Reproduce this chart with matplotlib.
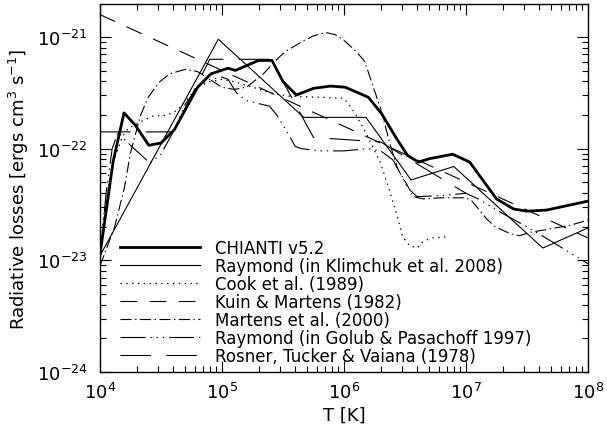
import numpy as np
import matplotlib
matplotlib.use("Agg")
import matplotlib.pyplot as plt

plt.rcParams['lines.scale_dashes'] = False
plt.rcParams['font.family'] = ['DejaVu Sans']

# values, as log10(T) and log10(Lambda)
chianti_logT = [4.0, 4.107, 4.197, 4.29, 4.40, 4.50, 4.61, 4.80, 4.91, 5.05, 5.11, 5.30, 5.41,
                5.50, 5.61, 5.75, 5.89, 6.01, 6.20, 6.31, 6.42, 6.52, 6.61, 6.70, 6.89, 7.03,
                7.25, 7.39, 7.50, 7.66, 8.0]
chianti_logL = [-22.95, -22.12, -21.68, -21.79, -21.97, -21.95, -21.83, -21.45, -21.33, -21.28,
                -21.30, -21.21, -21.21, -21.40, -21.52, -21.46, -21.44, -21.45, -21.54, -21.69,
                -21.89, -22.06, -22.12, -22.09, -22.05, -22.12, -22.45, -22.54, -22.56, -22.55,
                -22.47]

klim_logT = [4.0, 4.97, 5.67, 6.18, 6.55, 6.90, 7.63, 8.0]
klim_logL = [-22.96, -21.02, -21.72, -21.72, -22.28, -22.16, -22.89, -22.71]

cook_logT = [4.0, 4.03, 4.06, 4.11, 4.18, 4.23, 4.35, 4.43, 4.55, 4.63, 4.72, 4.80, 4.90, 5.0,
             5.1, 5.25, 5.4, 5.55, 5.8, 6.0, 6.05, 6.1, 6.19, 6.3, 6.38, 6.44, 6.48, 6.54,
             6.6, 6.65, 6.72, 6.84]
cook_logL = [-22.95, -22.6, -22.4, -22.12, -21.9, -21.82, -21.75, -21.71, -21.70, -21.66,
             -21.55, -21.45, -21.40, -21.38, -21.40, -21.45, -21.50, -21.53, -21.54, -21.55,
             -21.62, -21.70, -21.88, -22.13, -22.40, -22.62, -22.79, -22.87, -22.89, -22.83,
             -22.80, -22.79]

kuin_logT = [4.0, 5.0, 6.0, 7.0, 8.0]
kuin_logL = [-20.8, -21.3, -21.8, -22.3, -22.8]

martens_logT = [4.0, 4.12, 4.2, 4.25, 4.33, 4.39, 4.48, 4.57, 4.70, 4.80, 4.90, 5.0, 5.1, 5.2,
                5.34, 5.45, 5.52, 5.66, 5.75, 5.85, 5.93, 6.0, 6.1, 6.17, 6.21, 6.25, 6.3,
                6.38, 6.44, 6.52, 6.57, 6.65, 6.8, 7.0, 7.05, 7.11, 7.17, 7.24, 7.36, 7.44,
                7.52, 7.63, 7.73, 7.84, 8.0]
martens_logL = [-23.05, -22.7, -22.35, -22.04, -21.71, -21.55, -21.41, -21.33, -21.29, -21.31,
                -21.38, -21.45, -21.47, -21.45, -21.33, -21.2, -21.13, -21.04, -20.99, -20.96,
                -20.98, -21.03, -21.13, -21.22, -21.35, -21.48, -21.64, -21.97, -22.18, -22.33,
                -22.43, -22.45, -22.44, -22.44, -22.47, -22.55, -22.63, -22.70, -22.76, -22.78,
                -22.75, -22.73, -22.71, -22.69, -22.64]

golub_logT = [4.0, 4.05, 4.1, 4.15, 4.21, 4.34, 4.41, 4.5, 4.6, 4.7, 4.8, 4.9, 5.0, 5.05, 5.12,
              5.2, 5.39, 5.45, 5.55, 5.6, 5.65, 5.8, 6.0, 6.2, 6.3, 6.4, 6.45, 6.52, 6.6, 6.8,
              7.0, 7.1, 7.3, 7.5, 7.7, 8.0]
golub_logL = [-23.0, -22.4, -22.0, -21.85, -21.93, -22.06, -22.13, -22.05, -21.85, -21.6,
              -21.45, -21.38, -21.36, -21.38, -21.5, -21.57, -21.62, -21.7, -21.88, -21.98,
              -22.0, -22.02, -22.02, -22.0, -22.02, -22.1, -22.2, -22.35, -22.43, -22.42,
              -22.4, -22.45, -22.58, -22.7, -22.83, -23.03]

rtv_logT = [4.0, 4.6, 4.9, 5.4, 5.75, 6.3, 7.0]
rtv_logL = [-21.85, -21.85, -21.2, -21.2, -21.9, -21.94, -22.40]

curves = [
    ("CHIANTI v5.2", chianti_logT, chianti_logL, dict(lw=2.0, ls='-')),
    ("Raymond (in Klimchuk et al. 2008)", klim_logT, klim_logL, dict(lw=0.8, ls='-')),
    ("Cook et al. (1989)", cook_logT, cook_logL, dict(lw=0.9, ls=(0, (1.0, 3.2)))),
    ("Kuin & Martens (1982)", kuin_logT, kuin_logL, dict(lw=0.8, ls=(0, (12, 9)))),
    ("Martens et al. (2000)", martens_logT, martens_logL, dict(lw=0.8, ls=(0, (8, 2.5, 1, 2.5)))),
    ("Raymond (in Golub & Pasachoff 1997)", golub_logT, golub_logL,
     dict(lw=0.8, ls=(0, (18, 3.5, 1, 3.5, 1, 3.5, 1, 3.5)))),
    ("Rosner, Tucker & Vaiana (1978)", rtv_logT, rtv_logL, dict(lw=0.8, ls=(0, (22, 11)))),
]

fig = plt.figure(figsize=(6.07, 4.39), dpi=100)
ax = fig.add_axes([0.1647, 0.1503, 0.804, 0.8383])

for label, lt, ll, style in curves:
    ax.plot(10 ** np.array(lt), 10 ** np.array(ll), color='black', label=label, **style)

ax.set_xscale('log')
ax.set_yscale('log')
ax.set_xlim(1e4, 1e8)
ax.set_ylim(1e-24, 10 ** -20.705)
ax.set_yticks([1e-24, 1e-23, 1e-22, 1e-21])

ax.tick_params(which='both', direction='in', top=True, right=True, labelsize=13, width=0.8)
ax.tick_params(which='major', length=8)
ax.tick_params(which='minor', length=4)
ax.tick_params(axis='x', pad=7)
ax.tick_params(axis='y', pad=9)
for s in ax.spines.values():
    s.set_linewidth(1.0)

ax.set_xlabel('T [K]', fontsize=13, labelpad=3)
ax.set_ylabel('Radiative losses [ergs cm$^3$ s$^{-1}$]', fontsize=13, labelpad=4)

ax.legend(loc='lower left', bbox_to_anchor=(0.035, 0.01), frameon=False, fontsize=12,
          handlelength=4.8, handletextpad=0.85, labelspacing=0.0, borderpad=0.2,
          borderaxespad=0)

fig.savefig('out.png', dpi=100)
